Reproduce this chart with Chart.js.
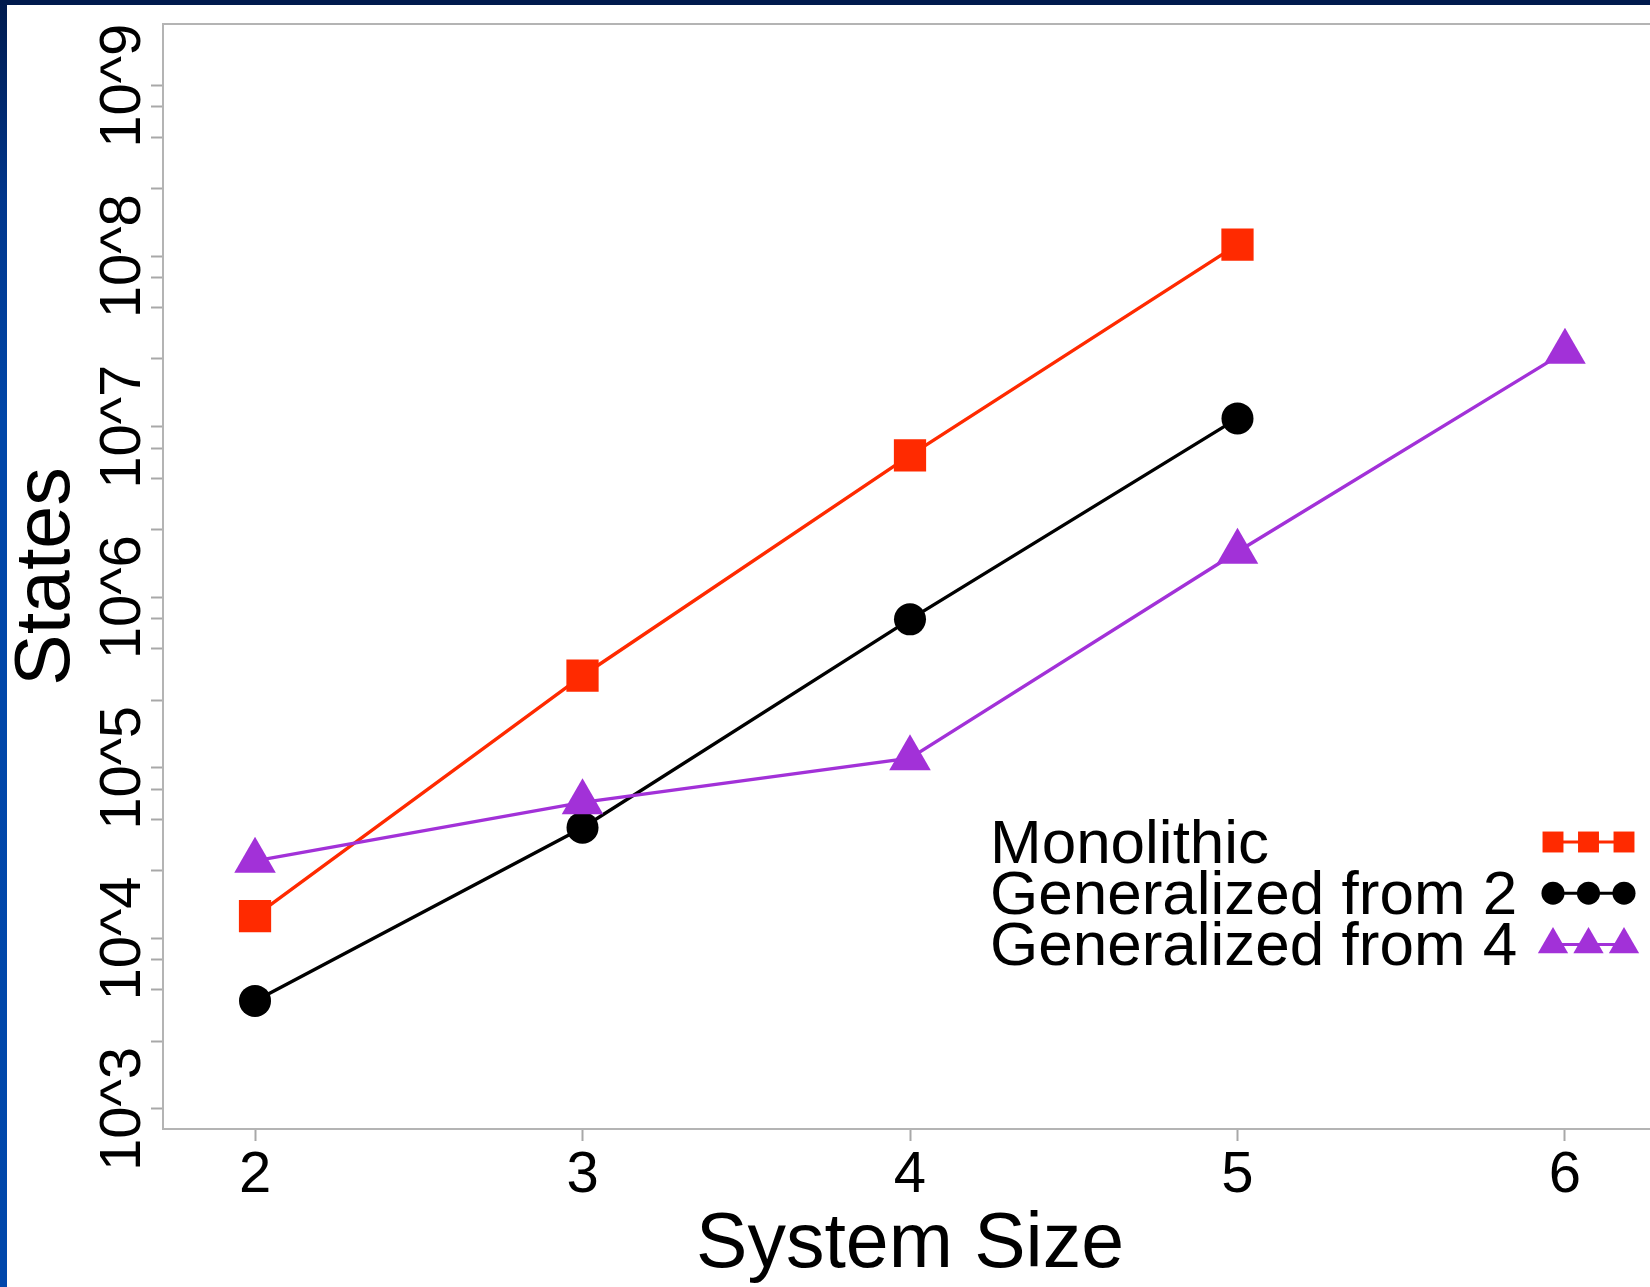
<!DOCTYPE html>
<html>
<head>
<meta charset="utf-8">
<script src="https://cdn.jsdelivr.net/npm/chart.js@4/dist/chart.umd.min.js"></script>
<style>
  html, body { margin: 0; padding: 0; background: #fff; overflow: hidden; }
  body { width: 1650px; height: 1287px; position: relative; }
  #frameTop { position: absolute; left: 0; top: 0; width: 1650px; height: 5px; background: #001a4d; z-index: 2; }
  #frameLeft { position: absolute; left: 0; top: 0; width: 7px; height: 1287px; z-index: 2;
    background: linear-gradient(to bottom, #001a4d 0px, #00368c 200px, #0046a8 420px, #0047ab 100%); }
  #chart { position: absolute; left: 0; top: 0; }
</style>
</head>
<body>
<div id="frameTop"></div>
<div id="frameLeft"></div>
<canvas id="chart" width="1700" height="1287"></canvas>
<script>
// data
const systemSizes = [2, 3, 4, 5, 6];
const monolithic = [13500, 347000, 6800000, 117000000];
const generalizedFrom2 = [4300, 44600, 743000, 11200000];
const generalizedFrom4 = [28500, 62800, 114000, 1850000, 27500000];
const seriesLabels = ['Monolithic', 'Generalized from 2', 'Generalized from 4'];

const yDecades = [1e3, 1e4, 1e5, 1e6, 1e7, 1e8, 1e9];
const yDecadeLabels = ['10^3', '10^4', '10^5', '10^6', '10^7', '10^8', '10^9'];
const yMinorSteps = [2.5, 5, 7.5];

const FONT = '"Liberation Sans", Arial, Helvetica, sans-serif';
const AXIS_GREY = '#a8a8a8';

const yTicks = [];
yDecades.forEach((d, i) => {
  yTicks.push(d);
  if (i < yDecades.length - 1) yMinorSteps.forEach(m => yTicks.push(m * d));
});

const toPoints = values => values.map((v, i) => ({ x: systemSizes[i], y: v }));

// box around the plot region, like R's box()
const frameBox = {
  id: 'frameBox',
  beforeDatasetsDraw(chart) {
    const { ctx, chartArea: a } = chart;
    ctx.save();
    ctx.strokeStyle = '#b4b4b4';
    ctx.lineWidth = 2;
    ctx.strokeRect(a.left, a.top, a.right - a.left, a.bottom - a.top);
    ctx.restore();
  }
};

// R-style legend: text first, then three markers joined by a line
const rLegend = {
  id: 'rLegend',
  afterDatasetsDraw(chart) {
    const ctx = chart.ctx;
    const textX = 990, firstY = 842, rowGap = 51.2, baseline = 20.5;
    const markerXs = [1553, 1588.5, 1624];
    const radius = { rect: 14.8, circle: 11.5, triangle: 17.5 };
    ctx.save();
    chart.data.datasets.forEach((ds, i) => {
      const y = firstY + i * rowGap;
      ctx.fillStyle = '#000';
      ctx.font = '62px ' + FONT;
      ctx.textAlign = 'left';
      ctx.textBaseline = 'alphabetic';
      ctx.fillText(ds.label, textX, y + baseline);
      ctx.strokeStyle = ds.borderColor;
      ctx.lineWidth = 3;
      ctx.beginPath();
      ctx.moveTo(markerXs[0], y);
      ctx.lineTo(markerXs[markerXs.length - 1], y);
      ctx.stroke();
      ctx.fillStyle = ds.borderColor;
      markerXs.forEach(x => {
        Chart.helpers.drawPoint(ctx, {
          pointStyle: ds.pointStyle, radius: radius[ds.pointStyle], rotation: 0, borderWidth: 0
        }, x, y);
      });
    });
    ctx.restore();
  }
};

new Chart(document.getElementById('chart'), {
  type: 'line',
  data: {
    datasets: [
      {
        label: seriesLabels[0], data: toPoints(monolithic), order: 3,
        borderColor: '#ff2a00', backgroundColor: '#ff2a00', borderWidth: 3.4,
        pointStyle: 'rect', pointRadius: 22.8, pointHoverRadius: 22.8, pointBorderWidth: 0
      },
      {
        label: seriesLabels[1], data: toPoints(generalizedFrom2), order: 2,
        borderColor: '#000000', backgroundColor: '#000000', borderWidth: 3.4,
        pointStyle: 'circle', pointRadius: 16, pointHoverRadius: 16, pointBorderWidth: 0
      },
      {
        label: seriesLabels[2], data: toPoints(generalizedFrom4), order: 1,
        borderColor: '#a231d8', backgroundColor: '#a231d8', borderWidth: 3.4,
        pointStyle: 'triangle', pointRadius: 24, pointHoverRadius: 24, pointBorderWidth: 0
      }
    ]
  },
  options: {
    responsive: false,
    animation: false,
    layout: { padding: { top: 24, right: 43, bottom: 0, left: 0 } },
    plugins: { legend: { display: false }, tooltip: { enabled: false } },
    elements: { line: { tension: 0 } },
    scales: {
      x: {
        type: 'linear',
        min: 1.719,
        max: 6.281,
        afterBuildTicks: s => { s.ticks = systemSizes.map(v => ({ value: v })); },
        afterFit: s => { s.height = 158; },
        grid: { drawOnChartArea: false, drawTicks: true, tickLength: 12, tickWidth: 2, tickColor: AXIS_GREY },
        border: { display: false },
        ticks: {
          autoSkip: false, maxRotation: 0, minRotation: 0, padding: 0, color: '#000',
          font: { family: FONT, size: 58, lineHeight: 1.2 },
          callback: v => String(v)
        },
        title: {
          display: true, text: 'System Size', color: '#000',
          font: { family: FONT, size: 77, lineHeight: 1 },
          padding: { top: 0, bottom: 3 }
        }
      },
      y: {
        type: 'logarithmic',
        min: 763,
        max: 2.3e9,
        afterBuildTicks: s => { s.ticks = yTicks.map(v => ({ value: v })); },
        afterFit: s => { s.width = 163; },
        grid: { drawOnChartArea: false, drawTicks: true, tickLength: 12, tickWidth: 2, tickColor: AXIS_GREY },
        border: { display: false },
        ticks: {
          autoSkip: false, minRotation: 90, maxRotation: 90, crossAlign: 'center', padding: -35,
          color: '#000',
          font: { family: FONT, size: 58, lineHeight: 1.2 },
          callback: v => {
            const i = yDecades.indexOf(v);
            return i >= 0 ? yDecadeLabels[i] : '';
          }
        },
        title: {
          display: true, text: 'States', color: '#000',
          font: { family: FONT, size: 77, lineHeight: 1 },
          padding: { top: 9, bottom: 0 }
        }
      }
    }
  },
  plugins: [frameBox, rLegend]
});
</script>
</body>
</html>
